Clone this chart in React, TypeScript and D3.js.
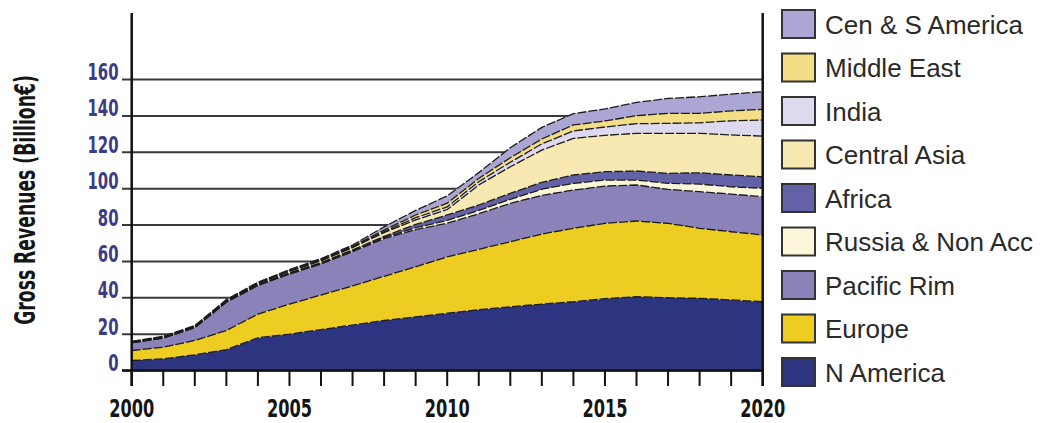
import React from "react";
import * as d3 from "d3";

// Years on the x axis
const years = [
  2000, 2001, 2002, 2003, 2004, 2005, 2006, 2007, 2008, 2009, 2010,
  2011, 2012, 2013, 2014, 2015, 2016, 2017, 2018, 2019, 2020,
];

// Gross revenues per region, billion euro (stacked bottom to top)
const nAmerica = [5.5, 6.4, 8.6, 11.5, 18, 20, 22.5, 25, 27.5, 29.5, 31.5, 33.5, 35, 36.5, 37.8, 39.5, 40.6, 40, 39.7, 38.8, 37.8];
const europe = [5.5, 6.4, 7.9, 10.5, 13, 16.5, 19, 21.5, 24.3, 27.5, 31, 33.1, 35.8, 38.5, 40.4, 41.4, 41.6, 40.9, 38.5, 37.5, 36.7];
const pacificRim = [4.2, 5.0, 7.0, 15.5, 15.7, 16.5, 17, 18.8, 20.7, 20.5, 18.5, 19.6, 21.1, 21.3, 21, 20.5, 19.8, 18.7, 20.1, 20.7, 21];
const russiaNonAcc = [0.1, 0.1, 0.15, 0.2, 0.2, 0.3, 0.3, 0.4, 0.5, 1.0, 1.5, 1.8, 2.2, 3.4, 3.7, 3.3, 2.7, 3.3, 4.2, 4.0, 4.7];
const africa = [0.1, 0.15, 0.2, 0.25, 0.3, 0.4, 0.5, 0.6, 0.8, 1.8, 3.0, 3.0, 3.3, 3.8, 4.6, 4.6, 5.0, 5.5, 6.2, 6.5, 6.3];
const centralAsia = [0.2, 0.25, 0.3, 0.4, 0.5, 0.8, 1.0, 1.3, 2.0, 2.5, 3.0, 11, 14.6, 17.7, 20.1, 20.0, 20.7, 22, 21.7, 22, 22.4];
const india = [0.1, 0.1, 0.1, 0.15, 0.2, 0.2, 0.3, 0.3, 0.6, 1.2, 1.5, 1.8, 2.5, 3.4, 4.1, 4.6, 5.3, 5.5, 5.8, 7.8, 8.8];
const middleEast = [0.1, 0.15, 0.15, 0.2, 0.2, 0.3, 0.3, 0.4, 0.8, 1.5, 2.0, 1.8, 2.5, 2.7, 3.3, 3.3, 4.4, 5.5, 5.2, 5.4, 5.9];
const cenSAmerica = [0.2, 0.25, 0.3, 0.3, 0.4, 0.5, 0.6, 0.7, 1.8, 2.5, 4.0, 3.2, 5.5, 6.4, 6.2, 6.6, 7.3, 8.2, 9.1, 9.3, 9.7];

const seriesNames = [
  "N America",
  "Europe",
  "Pacific Rim",
  "Russia & Non Acc",
  "Africa",
  "Central Asia",
  "India",
  "Middle East",
  "Cen & S America",
];
const seriesValues = [nAmerica, europe, pacificRim, russiaNonAcc, africa, centralAsia, india, middleEast, cenSAmerica];
const seriesColors = [
  "#2d3480",
  "#edcd22",
  "#8a82b8",
  "#fdf7da",
  "#6462a6",
  "#f8e9b2",
  "#ddd9ee",
  "#f3dd85",
  "#aba6d3",
];

const yTicks = [0, 20, 40, 60, 80, 100, 120, 140, 160];
const xLabels = [2000, 2005, 2010, 2015, 2020];

const W = 1042;
const H = 423;

export default function App() {
  const x = d3.scaleLinear().domain([2000, 2020]).range([131.7, 762.7]);
  const y = d3.scaleLinear().domain([0, 160]).range([370.5, 79.5]);

  const rows = years.map((yr, i) => {
    const r: Record<string, number> = { year: yr };
    seriesNames.forEach((n, k) => (r[n] = seriesValues[k][i]));
    return r;
  });
  const stacked = d3.stack<Record<string, number>>().keys(seriesNames)(rows);

  const area = d3
    .area<any>()
    .x((d) => x(d.data.year))
    .y0((d) => y(d[0]))
    .y1((d) => y(d[1]));
  const topLine = d3
    .line<any>()
    .x((d) => x(d.data.year))
    .y((d) => y(d[1]));

  // condensed bold face, narrowed further with a horizontal scale
  const numFont = "'DejaVu Sans Condensed', 'DejaVu Sans', sans-serif";
  const legendTop = 10;
  const legendStep = 43.5;
  const legendOrder = [...seriesNames.keys()].reverse();

  return (
    <svg
      width={W}
      height={H}
      viewBox={`0 0 ${W} ${H}`}
      style={{ position: "absolute", left: 0, top: 0, background: "#fff" }}
    >
      {/* horizontal grid */}
      {yTicks.map((t) => (
        <line key={t} x1={122} x2={762.7} y1={y(t)} y2={y(t)} stroke="#3a3a3a" strokeWidth={2} />
      ))}

      {/* stacked areas */}
      {stacked.map((s, k) => (
        <path key={s.key} d={area(s) || ""} fill={seriesColors[k]} />
      ))}
      {stacked.map((s) => (
        <path
          key={s.key + "-edge"}
          d={topLine(s) || ""}
          fill="none"
          stroke="#1c1c1c"
          strokeWidth={1.3}
          strokeDasharray="9 2"
        />
      ))}

      {/* axes frame */}
      <line x1={122} x2={762.7} y1={y(0)} y2={y(0)} stroke="#111" strokeWidth={2.5} />
      <line x1={x(2000)} x2={x(2000)} y1={13} y2={386} stroke="#111" strokeWidth={2.5} />
      <line x1={x(2020)} x2={x(2020)} y1={13} y2={386} stroke="#111" strokeWidth={2.5} />
      {years.map((yr) => (
        <line key={yr} x1={x(yr)} x2={x(yr)} y1={y(0)} y2={386} stroke="#111" strokeWidth={2} />
      ))}

      {/* y tick labels */}
      {yTicks.map((t) => (
        <text
          key={t}
          transform={`translate(118.5,${y(t) + 0.5}) scale(0.72,1)`}
          textAnchor="end"
          fontFamily={numFont}
          fontWeight="bold"
          fontSize={23}
          fill="#3b3c84"
        >
          {t}
        </text>
      ))}

      {/* x labels */}
      {xLabels.map((yr) => (
        <text
          key={yr}
          transform={`translate(${x(yr)},416.5) scale(0.72,1)`}
          textAnchor="middle"
          fontFamily={numFont}
          fontWeight="bold"
          fontSize={25}
          fill="#151515"
        >
          {yr}
        </text>
      ))}

      {/* y axis title */}
      <text
        transform={`translate(35,200) rotate(-90) scale(0.66,1)`}
        textAnchor="middle"
        fontFamily={numFont}
        fontWeight="bold"
        fontSize={29}
        fill="#151515"
      >
        Gross Revenues (Billion€)
      </text>

      {/* legend */}
      {legendOrder.map((k, i) => (
        <g key={seriesNames[k]} transform={`translate(0,${legendTop + i * legendStep})`}>
          <rect x={782} y={0} width={33} height={28} fill={seriesColors[k]} stroke="#333" strokeWidth={2} />
          <text x={825} y={23.5} fontFamily="'Liberation Sans', Arial, sans-serif" fontSize={26} fill="#2a2a2a">
            {seriesNames[k]}
          </text>
        </g>
      ))}
    </svg>
  );
}
